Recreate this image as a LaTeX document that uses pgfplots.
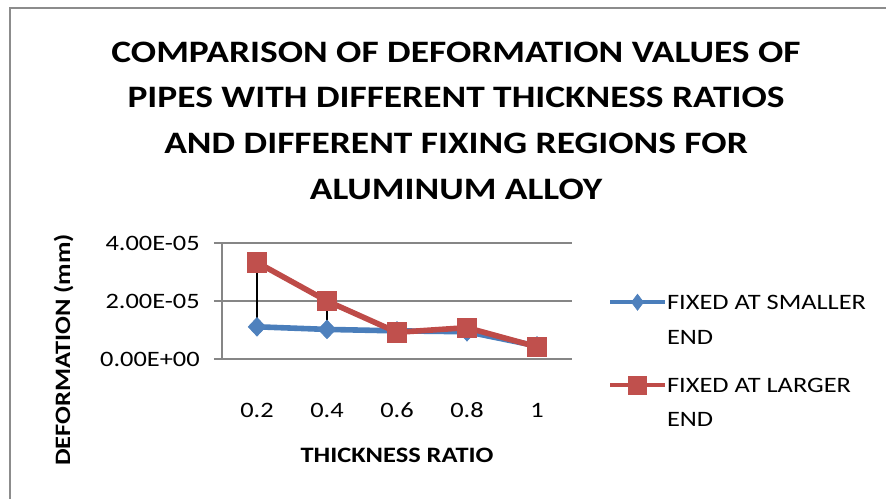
\documentclass[border=0pt]{standalone}
\usepackage{fontspec}
\setmainfont{Carlito}[FakeStretch=1.2]
\usepackage{pgfplots}
\pgfplotsset{compat=1.18}
\definecolor{sblue}{HTML}{4A7EBB}
\definecolor{mblue}{HTML}{4F81BD}
\definecolor{sred}{HTML}{BE4B48}
\definecolor{mred}{HTML}{C0504D}
\definecolor{gridgray}{HTML}{868686}
\definecolor{framegray}{HTML}{8C8C8C}
\pgfplotsset{
  bluelegend/.style={legend image code/.code={\draw[mark repeat=2,mark phase=2,##1,line width=3pt,mark size=6pt,mark options={mblue,fill=mblue,line width=0.5pt}] plot coordinates {(0pt,5.25pt)(20.6pt,5.25pt)(41.25pt,5.25pt)};}},
  redlegend/.style={legend image code/.code={\draw[mark repeat=2,mark phase=2,##1,line width=3pt,mark size=6.8pt,mark options={mred,fill=mred,line width=0.5pt}] plot coordinates {(0pt,5.25pt)(20.6pt,5.25pt)(41.25pt,5.25pt)};}},
}
\begin{document}
\begin{tikzpicture}
\useasboundingbox (0,0) rectangle (664.5pt,374.25pt);
\draw[framegray, line width=1.1pt] (7.5pt,0) -- (7.5pt,368.25pt) -- (664.5pt,368.25pt);
\begin{scope}[every node/.style={font=\fontsize{23.4}{28}\selectfont\bfseries, anchor=base, inner sep=0pt}]
\node at (342pt,327.4pt) {COMPARISON OF DEFORMATION VALUES OF};
\node at (342pt,293.25pt) {PIPES WITH DIFFERENT THICKNESS RATIOS};
\node at (342pt,258.75pt) {AND DIFFERENT FIXING REGIONS FOR};
\node at (342pt,224.6pt) {ALUMINUM ALLOY};
\end{scope}
\node[font=\fontsize{16.5}{20}\selectfont\bfseries, anchor=base, inner sep=0pt] at (297.75pt,27pt) {THICKNESS RATIO};
\node[font=\fontsize{16.5}{20}\selectfont\bfseries, anchor=base, inner sep=0pt, rotate=90] at (52.5pt,111.75pt) {DEFORMATION (mm)};
\begin{axis}[
  at={(166.5pt,105pt)}, anchor=south west,
  scale only axis, width=262.5pt, height=87pt,
  xmin=0.5, xmax=5.5, ymin=0, ymax=4e-5,
  xtick={1,2,3,4,5}, xticklabels={0.2,0.4,0.6,0.8,1},
  ytick={0,2e-5,4e-5}, yticklabels={0.00E+00,2.00E-05,4.00E-05},
  scaled y ticks=false,
  axis y line*=left, axis x line*=bottom,
  axis line style={draw=gridgray, line width=1.1pt, -},
  ymajorgrids, grid style={gridgray, line width=1.1pt},
  tick align=outside, major tick length=6pt,
  ytick style={gridgray, line width=1.1pt},
  xtick style={draw=none},
  tick label style={font=\fontsize{16.5}{20}\selectfont},
  xticklabel style={anchor=base, inner sep=0pt, yshift=-38.25pt},
  yticklabel style={anchor=east, inner sep=0pt, xshift=-10.5pt},
  clip=false,
  legend cell align=left,
  legend style={at={(1.103,0.558)}, anchor=north west, draw=none, fill=none,
    inner sep=0pt, outer sep=0pt, row sep=0pt, column sep=0pt,
    font=\fontsize{16.5}{20}\selectfont, nodes={inner sep=0pt},
    cells={anchor=base west}},
]
\addplot[sblue, line width=4.2pt, mark=diamond*, mark size=7pt,
  mark options={mblue, fill=mblue, xscale=1.25, line width=0.5pt}, bluelegend]
  coordinates {(1,1.11e-5) (2,1.02e-5) (3,0.97e-5) (4,0.94e-5) (5,0.45e-5)};
\addlegendentry{\rule{0pt}{11pt}FIXED AT SMALLER}
\addlegendimage{empty legend}
\addlegendentry{\rule{0pt}{24.75pt}END}
\addplot[sred, line width=4.2pt, mark=square*, mark size=7.2pt,
  mark options={mred, fill=mred, line width=0.5pt}, redlegend]
  coordinates {(1,3.33e-5) (2,2.00e-5) (3,0.92e-5) (4,1.08e-5) (5,0.42e-5)};
\addlegendentry{\rule{0pt}{34.5pt}FIXED AT LARGER}
\addlegendimage{empty legend}
\addlegendentry{\rule{0pt}{24pt}END}
\addplot[black, line width=1.2pt, forget plot] coordinates {(1,1.11e-5) (1,3.33e-5)};
\addplot[black, line width=1.2pt, forget plot] coordinates {(2,1.02e-5) (2,2.00e-5)};
\addplot[black, line width=1.2pt, forget plot] coordinates {(3,0.97e-5) (3,0.92e-5)};
\addplot[black, line width=1.2pt, forget plot] coordinates {(4,0.94e-5) (4,1.08e-5)};
\addplot[black, line width=1.2pt, forget plot] coordinates {(5,0.45e-5) (5,0.42e-5)};
\end{axis}
\end{tikzpicture}
\end{document}
